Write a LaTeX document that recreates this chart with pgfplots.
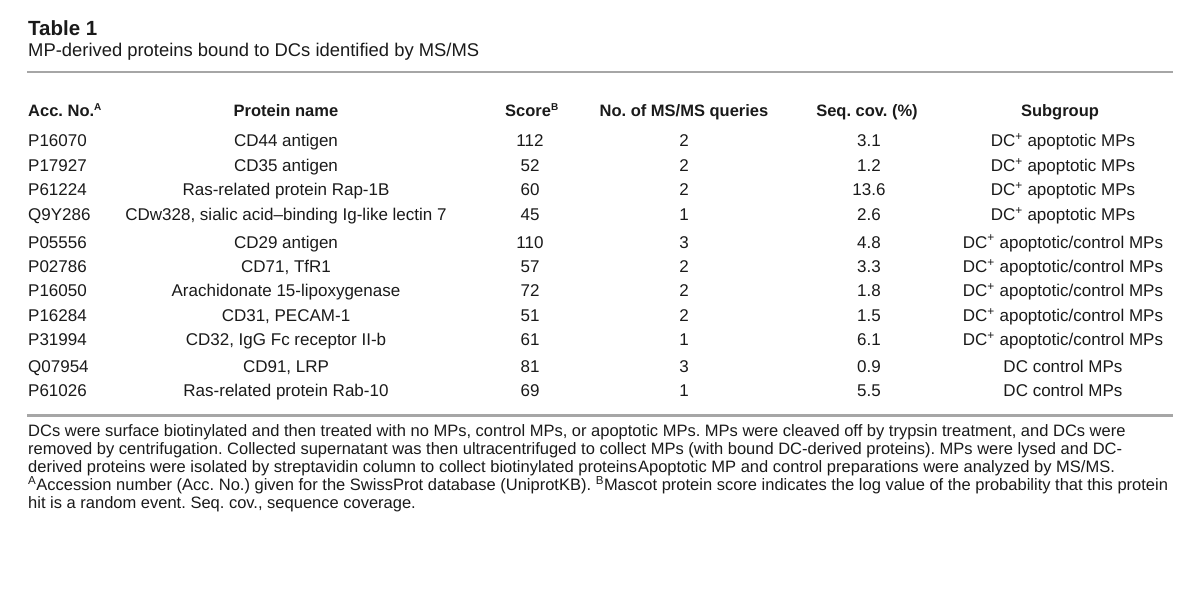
\documentclass[border=0pt]{standalone}
\usepackage{pgfplots}
\pgfplotsset{compat=1.18}
\usepackage{pgfplotstable}
\usepackage{fontspec}
\setmainfont{Liberation Sans}
\frenchspacing
\protected\def\dcp{DC\textsuperscript{+}}
\definecolor{rulegray}{HTML}{A6A6A6}
\definecolor{ink}{HTML}{1A1A1A}

\pgfplotstableread[col sep=semicolon]{
acc;name;score;q;cov;sub;y
P16070;CD44 antigen;112;2;3.1;\dcp{} apoptotic MPs;147
P17927;CD35 antigen;52;2;1.2;\dcp{} apoptotic MPs;171.6
P61224;Ras-related protein Rap-1B;60;2;13.6;\dcp{} apoptotic MPs;196
Q9Y286;CDw328, sialic acid–binding Ig-like lectin 7;45;1;2.6;\dcp{} apoptotic MPs;220.4
P05556;CD29 antigen;110;3;4.8;\dcp{} apoptotic/control MPs;248.2
P02786;CD71, TfR1;57;2;3.3;\dcp{} apoptotic/control MPs;272.6
P16050;Arachidonate 15-lipoxygenase;72;2;1.8;\dcp{} apoptotic/control MPs;297
P16284;CD31, PECAM-1;51;2;1.5;\dcp{} apoptotic/control MPs;321.4
P31994;CD32, IgG Fc receptor II-b;61;1;6.1;\dcp{} apoptotic/control MPs;345.8
Q07954;CD91, LRP;81;3;0.9;DC control MPs;372.4
P61026;Ras-related protein Rab-10;69;1;5.5;DC control MPs;396.8
}\rows

\pgfplotsset{
  cell/.style={only marks, mark=text, text mark={},
    point meta=explicit symbolic,
    nodes near coords={\pgfplotspointmeta},
    every node near coord/.append style={anchor=#1, inner sep=0pt, text=ink,
      font=\fontsize{17}{20}\selectfont}},
  cell/.default=base
}

\begin{document}
\begin{tikzpicture}
\begin{axis}[
  scale only axis, width=1200pt, height=593pt,
  xmin=0, xmax=1200, ymin=0, ymax=593, y dir=reverse,
  hide axis, clip=false,
]
% rules
\addplot[rulegray, line width=2.6pt, forget plot] coordinates {(27,72) (1173,72)};
\addplot[rulegray, line width=2.6pt, forget plot] coordinates {(27,415.7) (1173,415.7)};
\addplot[draw=none, forget plot] coordinates {(0,0) (1200,593)};

% table body
\addplot[cell=base west] table[x expr=28, y=y, meta=acc] {\rows};
\addplot[cell] table[x expr=286, y=y, meta=name] {\rows};
\addplot[cell] table[x expr=530, y=y, meta=score] {\rows};
\addplot[cell] table[x expr=684, y=y, meta=q] {\rows};
\addplot[cell] table[x expr=869, y=y, meta=cov] {\rows};
\addplot[cell] table[x expr=1063, y=y, meta=sub] {\rows};

% titles
\node[anchor=base west, inner sep=0pt, text=ink, font=\fontsize{20.5}{24}\selectfont\bfseries] at (axis cs:28,36) {Table 1};
\node[anchor=base west, inner sep=0pt, text=ink, font=\fontsize{18.4}{22}\selectfont] at (axis cs:28,57) {MP-derived proteins bound to DCs identified by MS/MS};

% header
\begin{scope}[every node/.style={anchor=base, inner sep=0pt, text=ink, font=\fontsize{16.5}{20}\selectfont\bfseries}]
\node[anchor=base west] at (axis cs:28,117) {Acc. No.\textsuperscript{\fontsize{10}{10}\selectfont A}};
\node at (axis cs:286,117) {Protein name};
\node at (axis cs:532,117) {Score\textsuperscript{\fontsize{10}{10}\selectfont B}};
\node at (axis cs:684,117) {No. of MS/MS queries};
\node at (axis cs:867,117) {Seq. cov. (\%)};
\node at (axis cs:1060,117) {Subgroup};
\end{scope}

% footnote
\begin{scope}[every node/.style={anchor=base west, inner sep=0pt, text=ink, font=\fontsize{16.5}{18}\selectfont}]
\node at (axis cs:28,436.5) {DCs were surface biotinylated and then treated with no MPs, control MPs, or apoptotic MPs. MPs were cleaved off by trypsin treatment, and DCs were};
\node at (axis cs:28,454.5) {removed by centrifugation. Collected supernatant was then ultracentrifuged to collect MPs (with bound DC-derived proteins). MPs were lysed and DC-};
\node at (axis cs:28,472.5) {derived proteins were isolated by streptavidin column to collect biotinylated proteins\hspace{1pt}Apoptotic MP and control preparations were analyzed by MS/MS.};
\node at (axis cs:28,490.5) {\textsuperscript{A}Accession number (Acc. No.) given for the SwissProt database (UniprotKB). \textsuperscript{B}Mascot protein score indicates the log value of the probability that this protein};
\node at (axis cs:28,508.5) {hit is a random event. Seq. cov., sequence coverage.};
\end{scope}
\end{axis}
\end{tikzpicture}
\end{document}
